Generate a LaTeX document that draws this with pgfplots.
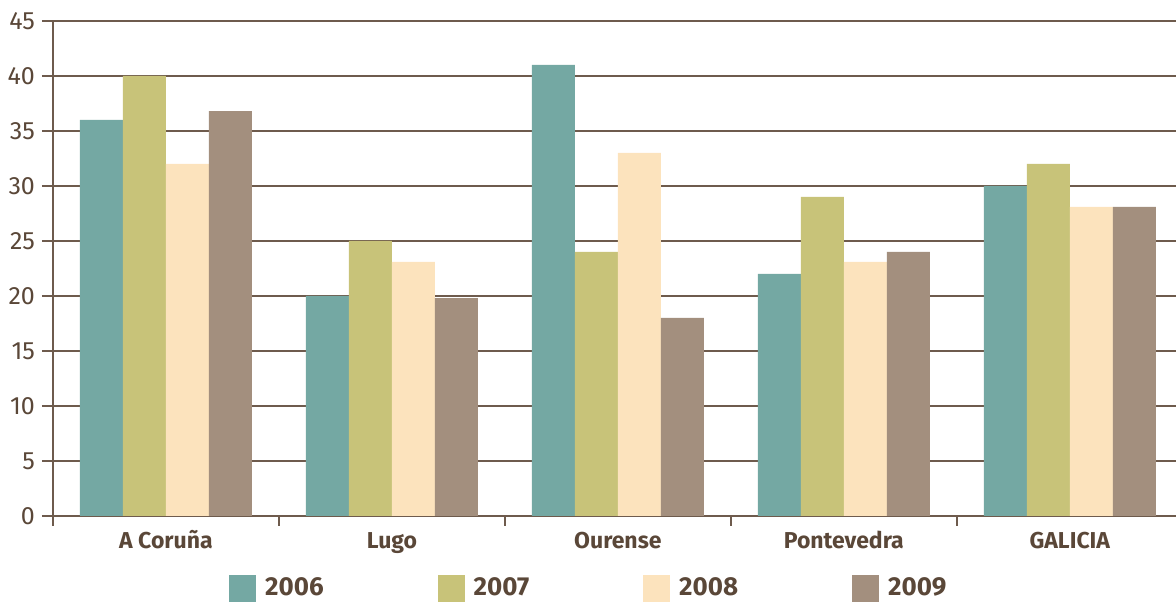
\documentclass[border=0pt]{standalone}
\usepackage{fontspec}
\setmainfont{Fira Sans}
\usepackage{pgfplots}
\pgfplotsset{compat=1.18}
\usetikzlibrary{calc}
\definecolor{c06}{HTML}{74A8A3}
\definecolor{c07}{HTML}{C8C379}
\definecolor{c08}{HTML}{FCE3BD}
\definecolor{c09}{HTML}{A38F7E}
\definecolor{axc}{HTML}{6E5B4D}
\definecolor{txt}{HTML}{5A4738}
\begin{document}
\begin{tikzpicture}
\begin{axis}[
    scale only axis,
    width=561.5pt, height=247.5pt,
    ybar=0pt, bar width=21.5pt,
    xmin=-0.5, xmax=4.47, ymin=0, ymax=45,
    axis lines=left,
    axis line style={-, draw=axc, line width=0.7pt},
    ytick={0,5,...,45},
    ymajorgrids, grid style={axc, line width=0.6pt},
    xtick={0,...,4},
    xticklabels={A Coruña, Lugo, Ourense, Pontevedra, GALICIA},
    minor xtick={-0.5,0.5,1.5,2.5,3.5},
    tick align=outside,
    major tick length=5.5pt, minor tick length=5pt,
    major x tick style={draw=none},
    minor x tick style={draw=axc, line width=0.7pt},
    y tick style={draw=axc, line width=0.7pt},
    xticklabel style={font=\bfseries\fontsize{11.5}{12}\selectfont, text=txt,
        text height=1.6ex, text depth=0.4ex, yshift=1pt},
    yticklabel style={font=\fontsize{12.5}{13}\selectfont, text=txt},
    /pgf/number format/assume math mode=true,
    lg/.style={legend image code/.code={\fill[##1] (0pt,-6.75pt) rectangle (13.5pt,6.75pt);}},
    legend columns=4,
    legend style={at={(0.478,-0.1465)}, anchor=center, draw=none, fill=none,
        font=\bfseries\fontsize{13}{14}\selectfont, text=txt,
        /tikz/every even column/.append style={column sep=55pt},
        /tikz/every odd column/.append style={column sep=2.5pt}},
]
\addplot[fill=c06, draw=none, lg] coordinates {(0,36) (1,20) (2,41) (3,22) (4,30)};
\addplot[fill=c07, draw=none, lg] coordinates {(0,40) (1,25) (2,24) (3,29) (4,32)};
\addplot[fill=c08, draw=none, lg] coordinates {(0,32) (1,23.1) (2,33) (3,23.1) (4,28.1)};
\addplot[fill=c09, draw=none, lg] coordinates {(0,36.8) (1,19.8) (2,18) (3,24) (4,28.1)};
\legend{2006, 2007, 2008, 2009}
\end{axis}
\pgfresetboundingbox
\path ($(current axis.south west)+(-26.5pt,-43pt)$) rectangle ($(current axis.north east)+(0pt,10.5pt)$);
\end{tikzpicture}
\end{document}
